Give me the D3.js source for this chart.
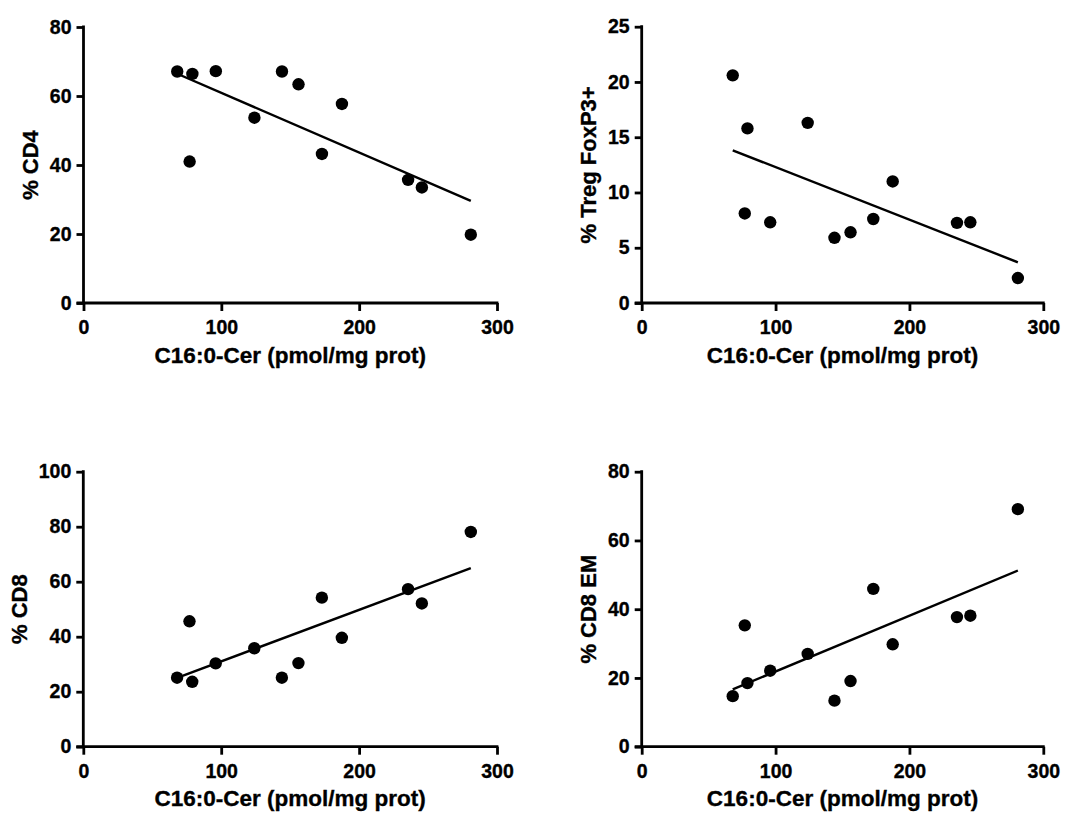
<!DOCTYPE html>
<html>
<head>
<meta charset="utf-8">
<script src="https://cdn.jsdelivr.net/npm/d3@7"></script>
<style>
  body { margin: 0; background: #fff; }
  text { font-family: "Liberation Sans", Arial, sans-serif; font-weight: bold; fill: #000; stroke: #000; stroke-width: 0.35px; }
</style>
</head>
<body>
<div class="chart"></div>
<script>
var svgWidth = 1077;
var svgHeight = 814;

// C16:0-Cer values (x), shared by all four panels
var cer = [68, 77, 79, 96, 124, 144, 156, 173, 187.5, 235.5, 245.5, 281];

// y values, same order as cer
var cd4 = [67.1, 41.0, 66.4, 67.2, 53.7, 67.1, 63.4, 43.2, 57.7, 35.7, 33.5, 19.8];
var treg = [20.6, 8.1, 15.8, 7.3, 16.3, 5.9, 6.4, 7.6, 11.0, 7.25, 7.3, 2.26];
var cd8 = [25.1, 45.6, 23.6, 30.3, 35.8, 25.1, 30.4, 54.2, 39.6, 57.3, 52.1, 78.1];
var cd8em = [14.7, 35.3, 18.5, 22.1, 27.0, 13.4, 19.1, 45.9, 29.8, 37.7, 38.1, 69.1];

var xTicks = [0, 100, 200, 300];
var cd4Ticks = [0, 20, 40, 60, 80];
var tregTicks = [0, 5, 10, 15, 20, 25];
var cd8Ticks = [0, 20, 40, 60, 80, 100];
var cd8emTicks = [0, 20, 40, 60, 80];

var xTitle = "C16:0-Cer (pmol/mg prot)";

var panels = [
  { y: cd4, ticks: cd4Ticks, label: "% CD4", left: 83.5, right: 497, top: 27, bottom: 303 },
  { y: treg, ticks: tregTicks, label: "% Treg FoxP3+", left: 641.7, right: 1043.3, top: 26.7, bottom: 303 },
  { y: cd8, ticks: cd8Ticks, label: "% CD8", left: 83.3, right: 497, top: 471.7, bottom: 746.7 },
  { y: cd8em, ticks: cd8emTicks, label: "% CD8 EM", left: 641.7, right: 1043.3, top: 471.7, bottom: 746.7 }
];

var svg = d3.select(".chart")
  .append("svg")
  .attr("width", svgWidth)
  .attr("height", svgHeight);

panels.forEach(function (p) {
  var g = svg.append("g");

  var xScale = d3.scaleLinear()
    .domain([0, 300])
    .range([p.left, p.right]);

  var yScale = d3.scaleLinear()
    .domain([0, d3.max(p.ticks)])
    .range([p.bottom, p.top]);

  var bottomAxis = d3.axisBottom(xScale)
    .tickValues(xTicks)
    .tickSize(8)
    .tickPadding(9)
    .tickSizeOuter(0);

  var leftAxis = d3.axisLeft(yScale)
    .tickValues(p.ticks)
    .tickSize(7)
    .tickPadding(5)
    .tickSizeOuter(0);

  var xAxisG = g.append("g")
    .attr("transform", `translate(0, ${p.bottom})`)
    .call(bottomAxis);

  var yAxisG = g.append("g")
    .attr("transform", `translate(${p.left}, 0)`)
    .call(leftAxis);

  [xAxisG, yAxisG].forEach(function (a) {
    a.select(".domain").attr("stroke", "#000").attr("stroke-width", 2.8);
    a.selectAll(".tick line").attr("stroke", "#000").attr("stroke-width", 2.8);
    a.selectAll(".tick text")
      .attr("fill", "#000")
      .style("font-family", "'Liberation Sans', Arial, sans-serif")
      .style("font-weight", "bold")
      .style("font-size", "19.5px");
  });
  // x axis line runs a bit past the y axis
  xAxisG.select(".domain").attr("d", `M${p.left - 7},0H${p.right + 1.4}`);
  yAxisG.select(".domain").attr("d", `M0,${p.bottom}V${p.top - 1.4}`);

  // regression line
  var mx = d3.mean(cer), my = d3.mean(p.y);
  var sxy = d3.sum(cer, function (d, i) { return (d - mx) * (p.y[i] - my); });
  var sxx = d3.sum(cer, function (d) { return (d - mx) * (d - mx); });
  var slope = sxy / sxx;
  var icpt = my - slope * mx;
  var ext = d3.extent(cer);

  g.append("line")
    .attr("x1", xScale(ext[0]))
    .attr("y1", yScale(icpt + slope * ext[0]))
    .attr("x2", xScale(ext[1]))
    .attr("y2", yScale(icpt + slope * ext[1]))
    .attr("stroke", "#000")
    .attr("stroke-width", 2.4);

  g.selectAll("circle")
    .data(cer)
    .enter()
    .append("circle")
    .attr("cx", function (d) { return xScale(d); })
    .attr("cy", function (d, i) { return yScale(p.y[i]); })
    .attr("r", 6.2)
    .attr("fill", "#000");

  // axis titles
  g.append("text")
    .attr("x", (p.left + p.right) / 2)
    .attr("y", p.bottom + 59.5)
    .attr("text-anchor", "middle")
    .style("font-size", "22.5px")
    .text(xTitle);

  var labelW = d3.max(yAxisG.selectAll(".tick text").nodes(), function (n) {
    return n.getBBox().width;
  });
  var cx = p.left - 12 - labelW - 20;
  g.append("text")
    .attr("transform", `translate(${cx}, ${(p.top + p.bottom) / 2}) rotate(-90)`)
    .attr("text-anchor", "middle")
    .attr("dy", "0.36em")
    .style("font-size", "22px")
    .text(p.label);
});
</script>
</body>
</html>
